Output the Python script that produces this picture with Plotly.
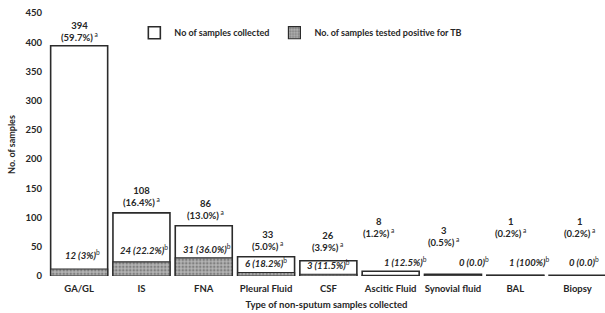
import plotly.graph_objects as go

categories = ["GA/GL", "IS", "FNA", "Pleural Fluid", "CSF", "Ascitic Fluid",
              "Synovial fluid", "BAL", "Biopsy"]
collected = [394, 108, 86, 33, 26, 8, 3, 1, 1]
collected_pct = ["59.7%", "16.4%", "13.0%", "5.0%", "3.9%", "1.2%", "0.5%", "0.2%", "0.2%"]
positive = [12, 24, 31, 6, 3, 1, 0, 1, 0]
positive_pct = ["3%", "22.2%", "36.0%", "18.2%", "11.5%", "12.5%", "0.0", "100%", "0.0"]

# label layout tweaks (pixels)
col_yshift = [1, 3, 3, 3, 6, 30, 24, 34, 34]
col_xshift = [0, 0, 2, 1, -1, -12, -9, -5, 2]
pos_yshift = [6, 4, 1, 1, 1, 5, 6, 5, 6]
pos_xshift = [3, 3, 3, 0, 0, 15, 21, 14, 6]

FONT = "Lato"
TXT = "#262626"

fig = go.Figure()
fig.add_trace(go.Bar(
    x=categories, y=collected, name="No of samples collected",
    marker=dict(color="white", line=dict(color="#2b2b2b", width=1.6)),
))
fig.add_trace(go.Bar(
    x=categories, y=positive, name="No. of samples tested positive for TB",
    marker=dict(color="#9a9a9a", line=dict(color="#2b2b2b", width=1.2),
                pattern=dict(shape=".", fgcolor="#4a4a4a", bgcolor="#b5b5b5",
                             size=3.5, solidity=0.45)),
))

annotations = []
for i, c in enumerate(categories):
    annotations.append(dict(
        x=c, y=collected[i], xref="x", yref="y", yanchor="bottom",
        xshift=col_xshift[i], yshift=col_yshift[i], showarrow=False,
        text=f"<b>{collected[i]}</b><br><b>({collected_pct[i]})</b><sup> a</sup>",
        font=dict(family=FONT, size=9.5, color=TXT), align="center",
    ))
    annotations.append(dict(
        x=c, y=positive[i], xref="x", yref="y", yanchor="bottom",
        xshift=pos_xshift[i], yshift=pos_yshift[i], showarrow=False,
        text=f"<b><i>{positive[i]} ({positive_pct[i]})</i></b><sup>b</sup>",
        font=dict(family=FONT, size=9.5, color=TXT), align="center",
    ))

fig.update_layout(
    width=605, height=313,
    margin=dict(l=48, r=0, t=13, b=37, autoexpand=False),
    paper_bgcolor="white", plot_bgcolor="white",
    barmode="overlay", bargap=0.085,
    font=dict(family=FONT, size=9, color=TXT),
    showlegend=True,
    legend=dict(orientation="h", x=0.155, y=0.925, xanchor="left", yanchor="middle",
                font=dict(family=FONT, size=9, color=TXT, weight="bold"),
                bgcolor="rgba(0,0,0,0)", itemwidth=30, traceorder="normal"),
    annotations=annotations,
    xaxis=dict(range=[-0.5, 8.44], showgrid=False, showline=False, ticks="",
               automargin=False, ticklabelstandoff=5,
               tickfont=dict(family=FONT, size=9.5, color=TXT, weight="bold"),
               title=dict(text="<b>Type of non-sputum samples collected</b>",
                          font=dict(family=FONT, size=9.5, color=TXT), standoff=8)),
    yaxis=dict(range=[0, 450], dtick=50, showgrid=False, showline=False, ticks="",
               zeroline=False, automargin=False, ticklabelstandoff=5,
               tickfont=dict(family=FONT, size=9.5, color=TXT, weight="bold"),
               title=dict(text="<b>No. of samples</b>",
                          font=dict(family=FONT, size=9, color=TXT), standoff=8)),
)

fig.write_html("out.html", config={"displayModeBar": False},
               post_script="document.body.style.margin='0';document.body.style.overflow='hidden';")
